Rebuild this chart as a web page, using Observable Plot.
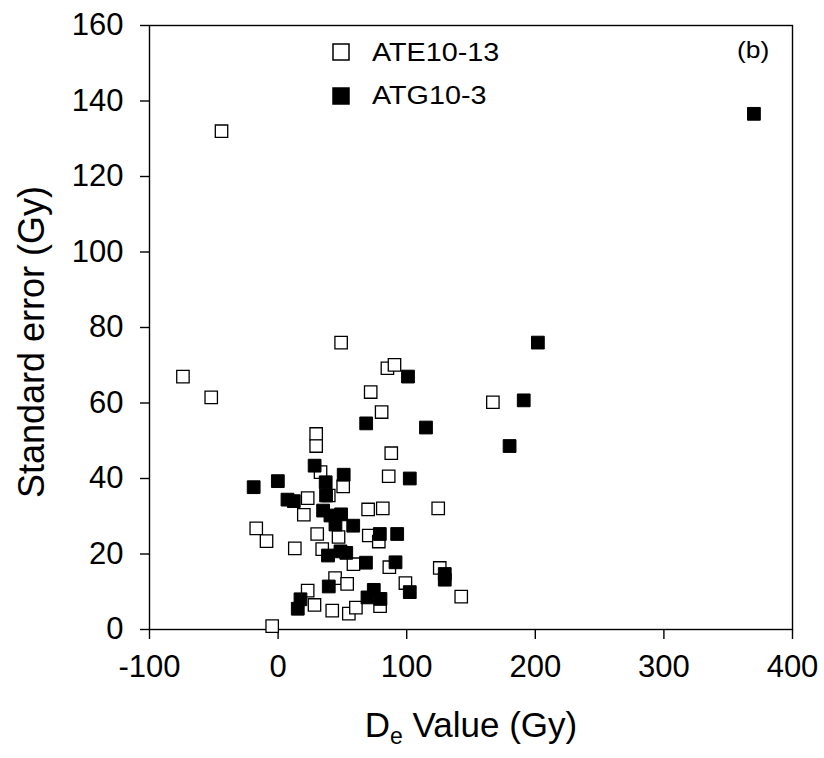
<!DOCTYPE html>
<html><head><meta charset="utf-8">
<script src="https://cdn.jsdelivr.net/npm/d3@7"></script>
<script src="https://cdn.jsdelivr.net/npm/@observablehq/plot@0.6"></script>
<style>body{margin:0;background:#fff} svg{display:block}</style>
</head><body><div id="chart"></div>
<script>
// ATE10-13 (open squares)
const ateX = [-44, -74, -52, 49, 85, 90.5, 72, 80.5, 167, 88, 86, 29.6, 29.6, 33, 50.6, 23, 39.4, 20, -17, -9, 13, 30.4, 47, 34.3, 70, 81.4, 124.5, 70.5, 78.3, 58.6, 86.5, 125.7, 44.3, 53.7, 99, 142.4, 23, 28.3, 42.1, 55, 60.5, 79.3, -4.6];
const ateY = [132, 67, 61.5, 76, 69.2, 70.1, 62.9, 57.6, 60.2, 46.7, 40.6, 51.8, 48.6, 41.7, 37.9, 34.8, 35.5, 30.4, 26.8, 23.4, 21.5, 25.3, 24.5, 21.3, 31.8, 32.1, 32.1, 24.9, 23.3, 17.3, 16.5, 16.3, 13.6, 12.1, 12.3, 8.7, 10.3, 6.5, 5.0, 4.2, 5.8, 6.2, 0.9];
// ATG10-3 (filled squares)
const atgX = [370, 202, 101, 68.5, 115, 191, 180, 51, 102.4, 28.4, -0.2, -19, 37, 37.3, 7.3, 12.2, 35, 40.7, 49, 44.6, 58.4, 79.1, 92.6, 38.8, 48.5, 53, 68.3, 91.3, 129.6, 129.6, 39.4, 17.4, 15.3, 74.4, 69.5, 79.6, 102.4];
const atgY = [136.6, 76, 67, 54.6, 53.5, 60.7, 48.6, 41, 40, 43.4, 39.3, 37.7, 39, 35.5, 34.4, 34, 31.5, 30.2, 30.5, 27.8, 27.5, 25.3, 25.3, 19.6, 20.7, 20.3, 17.7, 17.8, 14.7, 13.2, 11.4, 8.0, 5.5, 10.5, 8.5, 8.1, 9.9];
const xTicks = [-100, 0, 100, 200, 300, 400];
const yTicks = [0, 20, 40, 60, 80, 100, 120, 140, 160];
const seriesNames = ["ATE10-13", "ATG10-3"];
const panelLabel = "(b)";
const xTitleMain = "D", xTitleSub = "e", xTitleRest = " Value (Gy)";
const yTitle = "Standard error (Gy)";

const ate = ateX.map((x, i) => ({x, y: ateY[i]}));
const atg = atgX.map((x, i) => ({x, y: atgY[i]}));

const FONT = "'Liberation Sans', Arial, sans-serif";

const chart = Plot.plot({
  width: 824, height: 758,
  marginLeft: 149, marginRight: 32, marginTop: 25, marginBottom: 129,
  style: {fontFamily: FONT, fontSize: "31px", background: "#fff", color: "#000"},
  x: {domain: [-100, 400]},
  y: {domain: [0, 160]},
  marks: [
    Plot.frame({stroke: "#000", strokeWidth: 1.4}),
    Plot.axisX({ticks: xTicks, tickSize: 10, tickPadding: 15, tickFormat: d => String(d), label: null, strokeWidth: 1.4}),
    Plot.axisY({ticks: yTicks, tickSize: 9, tickPadding: 17, tickFormat: d => String(d), label: null, strokeWidth: 1.4}),
    Plot.dot(ate, {x: "x", y: "y", symbol: "square", r: 7, fill: "#fff", stroke: "#000", strokeWidth: 1.3}),
    Plot.dot(atg, {x: "x", y: "y", symbol: "square", r: 7.2, fill: "#000", stroke: "#000", strokeWidth: 1})
  ]
});

const svg = d3.select(chart);

// Y title
svg.append("text")
  .attr("transform", `translate(31,342) rotate(-90)`)
  .attr("text-anchor", "middle").attr("dominant-baseline", "central")
  .attr("font-size", 36).attr("font-family", FONT).attr("fill", "#000")
  .text(yTitle);

// X title with subscript
const xt = svg.append("text")
  .attr("transform", `translate(471,737)`)
  .attr("text-anchor", "middle")
  .attr("font-size", 35).attr("font-family", FONT).attr("fill", "#000");
xt.append("tspan").text(xTitleMain);
xt.append("tspan").attr("font-size", 23).attr("dy", 7).text(xTitleSub);
xt.append("tspan").attr("dy", -7).text(xTitleRest);

// Legend
const leg = [
  {fill: "#fff", y: 44, ty: 61},
  {fill: "#000", y: 88, ty: 104}
];
leg.forEach((d, i) => {
  svg.append("rect").attr("x", 333).attr("y", d.y).attr("width", 16).attr("height", 16)
    .attr("fill", d.fill).attr("stroke", "#000").attr("stroke-width", 1.5);
  svg.append("text").attr("transform", `translate(372,${d.ty}) scale(1.15,1)`)
    .attr("text-anchor", "start")
    .attr("font-size", 25).attr("font-family", FONT).attr("fill", "#000")
    .text(seriesNames[i]);
});

svg.append("text").attr("transform", `translate(737,58) scale(1.15,1)`)
  .attr("text-anchor", "start")
  .attr("font-size", 23).attr("font-family", FONT).attr("fill", "#000")
  .text(panelLabel);

document.getElementById("chart").appendChild(chart);
</script>
</body></html>
